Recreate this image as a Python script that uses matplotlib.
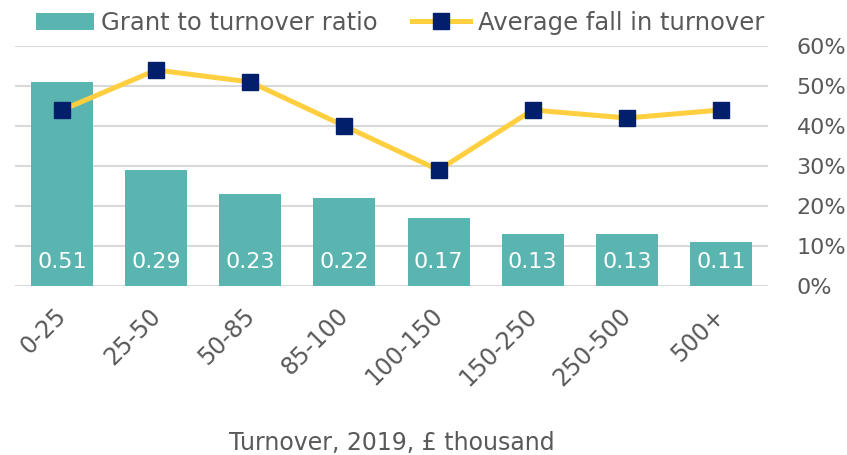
import numpy as np
import matplotlib.pyplot as plt
from matplotlib.ticker import PercentFormatter
from matplotlib.transforms import ScaledTranslation

categories = ["0-25", "25-50", "50-85", "85-100", "100-150", "150-250", "250-500", "500+"]
grant_ratio = [0.51, 0.29, 0.23, 0.22, 0.17, 0.13, 0.13, 0.11]
avg_fall = [0.44, 0.54, 0.51, 0.40, 0.29, 0.44, 0.42, 0.44]

teal = "#5AB5B0"
yellow = "#FFCF40"
navy = "#021F6B"
grey = "#595959"
fs = 17

plt.rcParams["font.family"] = ["DejaVu Sans"]

fig = plt.figure(figsize=(8.47, 4.55), dpi=100)
ax = fig.add_axes([15 / 847, 1 - 286 / 455, 753 / 847, 240 / 455])
ax2 = ax.twinx()

x = np.arange(len(categories))
bars = ax.bar(x, grant_ratio, width=0.66, color=teal, zorder=2,
              label="Grant to turnover ratio")
for xi, v in zip(x, grant_ratio):
    ax.text(xi, 0.06, f"{v:.2f}", ha="center", va="center",
            color="white", fontsize=16, zorder=3)

line, = ax2.plot(x, avg_fall, color=yellow, lw=3.6, marker="s", ms=11,
                 mfc=navy, mec=navy, zorder=4, label="Average fall in turnover")

for a in (ax, ax2):
    a.set_ylim(0, 0.6)
    a.set_xlim(-0.5, len(categories) - 0.5)
    for s in a.spines.values():
        s.set_visible(False)

ax.set_zorder(ax2.get_zorder() - 1)
ax2.patch.set_visible(False)

ax.set_yticks(np.arange(0, 0.61, 0.1))
ax.yaxis.grid(True, color="#D9D9D9", lw=1.5, zorder=0)
ax.tick_params(axis="y", left=False, labelleft=False)
ax2.set_yticks(np.arange(0, 0.61, 0.1))
ax2.yaxis.set_major_formatter(PercentFormatter(1.0, decimals=0))
ax2.tick_params(axis="y", right=False, labelsize=16, labelcolor=grey, pad=17)

ax.set_xticks(x)
ax.set_xticklabels(categories, rotation=45, ha="right", rotation_mode="anchor",
                   fontsize=fs, color=grey)
ax.tick_params(axis="x", bottom=False, pad=9)
# nudge the rotated labels a little to the left
shift = ScaledTranslation(-8 / 100, 0, fig.dpi_scale_trans)
for lbl in ax.get_xticklabels():
    lbl.set_transform(lbl.get_transform() + shift)
ax.set_xlabel("Turnover, 2019, £ thousand", fontsize=fs, color=grey, labelpad=29)

fig.legend([bars, line], ["Grant to turnover ratio", "Average fall in turnover"],
           loc="center", bbox_to_anchor=(400 / 847, 1 - 23 / 455), ncol=2,
           frameon=False, fontsize=17.5, handlelength=2.4, columnspacing=1.4,
           handletextpad=0.3, labelcolor=grey)

fig.savefig("out.png", dpi=100)
